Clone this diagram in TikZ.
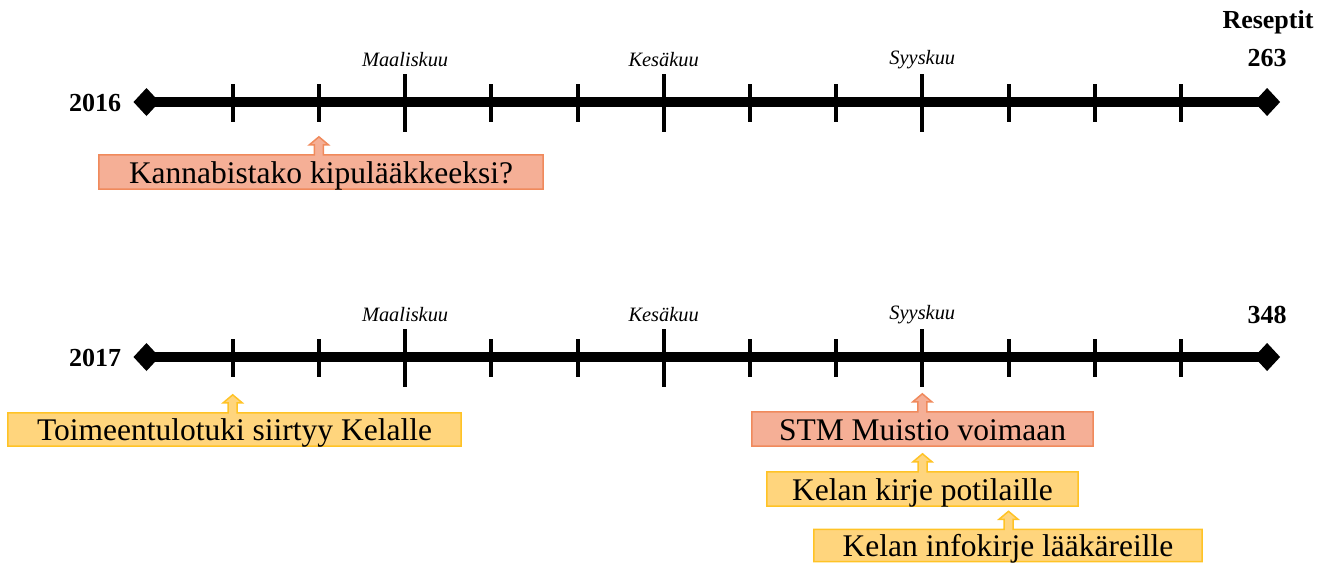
\documentclass[tikz,border=0pt]{standalone}
\usepackage{fontspec}
\setmainfont{Liberation Serif}
\usetikzlibrary{calc,backgrounds}
\definecolor{salmonfill}{HTML}{F5AF96}
\definecolor{salmonline}{HTML}{F08A5C}
\definecolor{goldfill}{HTML}{FFD57D}
\definecolor{goldline}{HTML}{FFC326}

% box outline with a small upward block arrow pointing at a tick
\newcommand\calloutbox[4]{%
  \begin{scope}[on background layer]
    \filldraw[fill=#3,draw=#4,line width=1.5pt,line join=miter]
      (#1.south west) -- (#1.north west)
      -- ($(#1.north -| #2)+(-4.5,0)$) -- ++(0,-10) -- ++(-5,0)
      -- ++(9.5,-8) -- ++(9.5,8) -- ++(-5,0) -- ++(0,10)
      -- (#1.north east) -- (#1.south east) -- cycle;
  \end{scope}}

\begin{document}
\begin{tikzpicture}[x=1pt,y=-1pt,
  axisline/.style={line width=10pt},
  minortick/.style={line width=4pt},
  majortick/.style={line width=4pt},
  monthlabel/.style={font=\fontsize{20.4pt}{21pt}\selectfont\itshape, inner sep=0pt},
  yearlabel/.style={font=\fontsize{26pt}{27pt}\selectfont\bfseries, inner sep=0pt},
  boxtext/.style={font=\fontsize{31.5pt}{32pt}\selectfont, inner sep=0pt,
    text height=25pt, text depth=3pt, align=center}]
\useasboundingbox (0,0) rectangle (1331,563);

% two timelines, one per year
\foreach \r/\yy in {a/102,b/357} {
  \foreach \k in {0,...,13} {
    \coordinate (\r\k) at ({146.5+86.2*\k},\yy);
  }
  \draw[axisline] (\r0) -- (\r13);
  \fill (\r0) ++(-13,0) -- ++(13,-14) -- ++(13,14) -- ++(-13,14) -- cycle;
  \fill (\r13) ++(-13,0) -- ++(13,-14) -- ++(13,14) -- ++(-13,14) -- cycle;
  \foreach \k in {1,2,4,5,7,8,10,11,12} {
    \draw[minortick] ($(\r\k)+(0,-18)$) -- ($(\r\k)+(0,20)$);
  }
  \foreach \k in {3,6,9} {
    \draw[majortick] ($(\r\k)+(0,-28)$) -- ($(\r\k)+(0,30)$);
  }
  \node[monthlabel] (\r m1) at ($(\r3)+(0,-42)$) {Maaliskuu};
  \node[monthlabel] (\r m2) at ($(\r6)+(0,-42)$) {Kesäkuu};
  \node[monthlabel] (\r m3) at ($(\r9)+(0,-42)$) {Syyskuu};
}

\node[yearlabel] (y16) at (95,103) {2016};
\node[yearlabel] (y17) at (95,358) {2017};
\node[yearlabel] (res) at (1268,22) {Reseptit};
\node[yearlabel] (n16) at (1267,58) {263};
\node[yearlabel] (n17) at (1267,315) {348};

% event boxes
\node[boxtext, minimum width=444pt, minimum height=34pt] (e1) at (321,172) {Kannabistako kipulääkkeeksi?};
\calloutbox{e1}{a2}{salmonfill}{salmonline}

\node[boxtext, minimum width=453pt, minimum height=33pt] (e2) at (234.5,429.5) {Toimeentulotuki siirtyy Kelalle};
\calloutbox{e2}{b1}{goldfill}{goldline}

\node[boxtext, minimum width=341pt, minimum height=34pt] (e3) at (922.5,429) {STM Muistio voimaan};
\calloutbox{e3}{b9}{salmonfill}{salmonline}

\node[boxtext, minimum width=311pt, minimum height=34pt] (e4) at (922.5,489) {Kelan kirje potilaille};
\calloutbox{e4}{e3}{goldfill}{goldline}

\node[boxtext, minimum width=388pt, minimum height=32pt] (e5) at (1008,545.5) {Kelan infokirje lääkäreille};
\calloutbox{e5}{b10}{goldfill}{goldline}
\end{tikzpicture}
\end{document}
